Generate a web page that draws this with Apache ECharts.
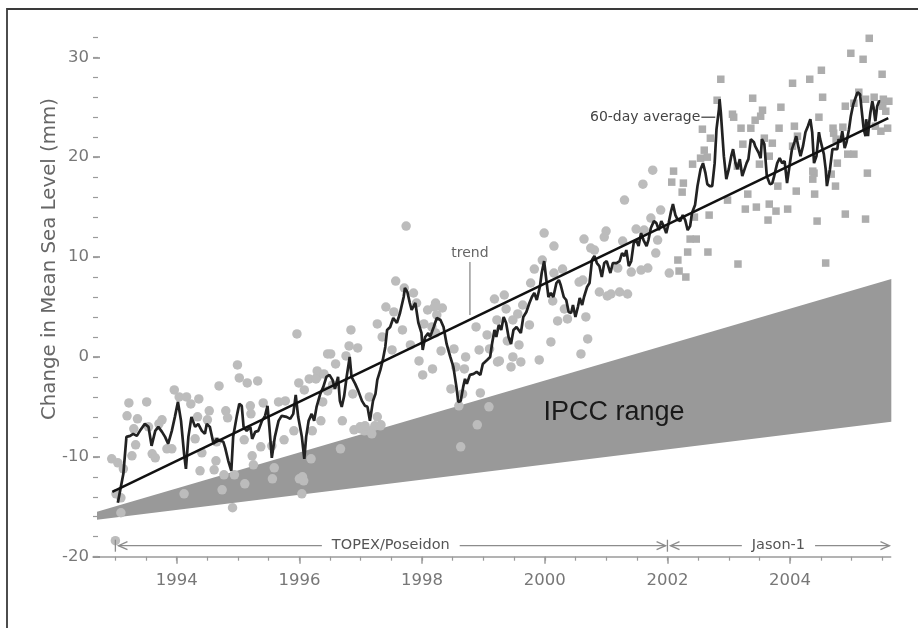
<!DOCTYPE html>
<html><head><meta charset="utf-8">
<script src="https://cdn.jsdelivr.net/npm/echarts@6/dist/echarts.min.js"></script>
<style>html,body{margin:0;padding:0;background:#fff}#c{width:918px;height:628px}</style>
</head><body><div id="c"></div>
<script>
// ---- tick values ----
const xMajorTicks = [1994, 1996, 1998, 2000, 2002, 2004];
const xMinorTicks = [1993, 1993.5, 1994, 1994.5, 1995, 1995.5, 1996, 1996.5, 1997, 1997.5, 1998, 1998.5, 1999, 1999.5, 2000, 2000.5, 2001, 2001.5, 2002, 2002.5, 2003, 2003.5, 2004, 2004.5, 2005, 2005.5];
const yMajorTicks = [-20, -10, 0, 10, 20, 30];
const yMinorTicks = [-20, -18, -16, -14, -12, -10, -8, -6, -4, -2, 0, 2, 4, 6, 8, 10, 12, 14, 16, 18, 20, 22, 24, 26, 28, 30, 32];

// ---- 60-day average (year, mm) ----
const avgPoints = [
[1993.04,-14.6],[1993.13,-11.7],[1993.18,-8.0],[1993.24,-7.9],[1993.29,-7.7],[1993.35,-7.9],[1993.40,-7.4],[1993.48,-6.7],[1993.54,-7.0],[1993.59,-8.9],[1993.65,-7.4],[1993.70,-7.0],[1993.76,-7.5],[1993.81,-8.0],[1993.86,-8.7],[1993.92,-7.4],[1993.97,-6.0],[1994.02,-4.5],[1994.07,-6.4],[1994.12,-9.7],[1994.15,-11.2],[1994.19,-8.0],[1994.24,-6.0],[1994.30,-7.0],[1994.35,-6.7],[1994.41,-7.4],[1994.46,-7.7],[1994.49,-6.7],[1994.54,-7.0],[1994.60,-8.7],[1994.65,-8.2],[1994.71,-8.4],[1994.76,-8.5],[1994.79,-9.1],[1994.84,-10.4],[1994.89,-11.4],[1994.92,-8.0],[1994.98,-5.9],[1995.02,-4.7],[1995.06,-4.9],[1995.09,-7.0],[1995.14,-7.4],[1995.20,-7.0],[1995.23,-8.2],[1995.28,-7.5],[1995.33,-7.4],[1995.39,-6.4],[1995.44,-5.9],[1995.48,-4.9],[1995.51,-7.0],[1995.55,-10.1],[1995.60,-8.0],[1995.66,-6.4],[1995.71,-5.9],[1995.79,-6.0],[1995.85,-6.2],[1995.90,-5.7],[1995.94,-3.8],[1995.98,-6.0],[1996.04,-8.0],[1996.08,-10.2],
[1996.11,-8.0],[1996.15,-6.4],[1996.20,-5.7],[1996.24,-6.4],[1996.28,-5.0],[1996.34,-3.7],[1996.39,-3.0],[1996.44,-2.0],[1996.49,-1.8],[1996.54,-2.3],[1996.58,-3.2],[1996.63,-2.0],[1996.66,-4.4],[1996.69,-5.0],[1996.73,-3.9],[1996.77,-2.0],[1996.82,0.0],[1996.85,-2.0],[1996.91,-2.7],[1996.96,-3.4],[1997.02,-4.4],[1997.07,-4.9],[1997.11,-5.0],[1997.15,-6.4],[1997.20,-4.4],[1997.24,-3.7],[1997.27,-2.3],[1997.32,-1.3],[1997.36,-0.3],[1997.40,1.0],[1997.43,2.7],[1997.48,3.0],[1997.53,3.9],[1997.59,3.4],[1997.64,4.4],[1997.70,6.0],[1997.72,6.9],[1997.76,6.5],[1997.80,5.4],[1997.83,4.7],[1997.89,5.4],[1997.94,3.4],[1997.99,2.4],[1998.01,0.7],[1998.05,2.0],[1998.10,2.4],[1998.13,2.0],[1998.19,3.0],[1998.24,3.9],[1998.30,3.7],[1998.35,3.0],[1998.40,1.3],[1998.46,0.0],[1998.51,-1.0],[1998.56,-3.0],[1998.59,-4.5],[1998.63,-4.4],[1998.67,-3.0],[1998.70,-2.2],[1998.73,-2.7],[1998.78,-1.8],[1998.84,-1.7],[1998.89,-1.5],[1998.95,-1.8],[1998.99,-0.7],[1999.06,-0.3],[1999.11,0.0],
[1999.14,1.3],[1999.18,2.7],[1999.21,2.0],[1999.25,3.2],[1999.29,2.7],[1999.33,4.0],[1999.37,3.4],[1999.41,2.0],[1999.45,1.3],[1999.49,2.7],[1999.54,3.0],[1999.57,3.0],[1999.61,2.4],[1999.65,4.0],[1999.70,4.5],[1999.75,5.4],[1999.79,6.0],[1999.83,6.4],[1999.87,5.7],[1999.92,7.0],[1999.95,8.4],[1999.99,9.6],[2000.02,8.0],[2000.06,6.0],[2000.10,6.4],[2000.14,6.0],[2000.19,7.4],[2000.23,7.7],[2000.26,7.2],[2000.31,6.0],[2000.35,5.7],[2000.39,4.5],[2000.43,4.4],[2000.46,5.2],[2000.50,4.0],[2000.54,5.0],[2000.57,5.9],[2000.61,5.2],[2000.64,6.0],[2000.69,7.0],[2000.73,7.4],[2000.77,9.7],[2000.81,10.1],[2000.85,9.4],[2000.89,9.1],[2000.93,8.0],[2000.97,9.4],[2001.01,9.6],[2001.07,8.4],[2001.11,9.4],[2001.17,9.4],[2001.22,9.6],[2001.26,10.4],[2001.30,10.1],[2001.33,10.7],[2001.37,9.1],[2001.41,9.6],[2001.45,11.4],[2001.49,11.7],[2001.53,11.1],[2001.57,12.4],[2001.61,11.7],[2001.66,11.1],[2001.69,11.7],[2001.73,12.9],[2001.78,13.6],[2001.82,13.4],[2001.86,12.7],[2001.90,13.6],[2001.94,13.1],[2001.98,12.4],[2002.02,13.4],[2002.06,14.6],[2002.09,15.3],[2002.13,14.2],[2002.17,13.7],[2002.21,13.6],[2002.25,14.2],[2002.29,13.7],[2002.33,12.7],[2002.37,13.1],
[2002.40,14.4],[2002.45,15.2],[2002.49,17.1],[2002.54,18.8],[2002.58,19.4],[2002.62,18.4],[2002.65,17.3],[2002.69,17.1],[2002.73,17.1],[2002.77,19.4],[2002.80,22.8],[2002.84,24.8],[2002.85,25.8],[2002.87,24.5],[2002.92,20.1],[2002.96,17.8],[2003.00,18.8],[2003.04,20.1],[2003.07,20.8],[2003.11,19.4],[2003.14,18.8],[2003.18,19.8],[2003.22,18.1],[2003.24,17.9],[2003.29,19.4],[2003.32,19.8],[2003.36,21.8],[2003.41,21.5],[2003.43,21.1],[2003.46,21.3],[2003.49,20.4],[2003.52,19.9],[2003.54,21.8],[2003.58,21.3],[2003.62,18.1],[2003.67,17.3],[2003.71,17.4],[2003.74,18.1],[2003.79,19.4],[2003.83,19.9],[2003.87,19.4],[2003.91,19.6],[2003.95,17.4],[2003.99,19.1],[2004.03,20.8],[2004.07,21.5],[2004.10,22.1],[2004.14,20.9],[2004.17,20.1],[2004.21,21.1],[2004.25,22.5],[2004.29,23.1],[2004.33,23.8],[2004.36,22.5],[2004.39,19.4],[2004.43,20.1],[2004.47,22.5],[2004.49,21.8],[2004.53,20.8],[2004.55,20.3],[2004.58,18.8],[2004.60,17.1],[2004.65,18.8],[2004.69,20.8],[2004.72,20.6],[2004.77,20.8],[2004.79,21.8],[2004.82,21.5],[2004.85,22.6],[2004.89,20.9],[2004.92,21.5],[2004.96,22.8],[2004.99,24.1],[2005.03,25.3],[2005.07,26.0],[2005.10,26.5],[2005.14,26.3],[2005.17,24.5],[2005.20,22.8],[2005.23,22.1],[2005.24,23.8],[2005.27,22.1],[2005.29,23.5],[2005.31,24.5],[2005.34,25.6],[2005.36,25.0],[2005.39,23.6],[2005.42,25.1],[2005.45,25.6],[2005.47,25.6]
];

// ---- TOPEX/Poseidon measurements (circles) ----
const topexPoints = [
[1995.96,2.3],[1994.99,-0.8],[1995.02,-2.1],[1995.15,-2.6],[1995.32,-2.4],[1994.69,-2.9],[1993.96,-3.3],[1994.04,-4.0],[1994.16,-4.0],[1994.36,-4.2],[1994.23,-4.7],[1993.22,-4.6],[1993.51,-4.5],[1994.53,-5.4],[1994.80,-5.4],[1993.19,-5.9],[1993.36,-6.2],[1994.34,-6.0],[1993.76,-6.3],[1993.71,-6.7],[1994.83,-6.1],[1994.50,-6.3],[1995.20,-4.9],[1995.41,-4.6],[1995.66,-4.5],[1995.77,-4.4],[1995.99,-2.6],[1996.08,-3.3],[1995.21,-5.7],[1993.30,-7.2],[1993.54,-7.0],[1993.60,-9.7],[1993.65,-10.1],[1993.84,-9.2],[1993.92,-9.2],[1993.33,-8.8],[1993.27,-9.9],[1992.94,-10.2],[1993.04,-10.6],[1993.13,-11.2],[1993.01,-13.7],[1994.30,-8.2],[1994.41,-9.6],[1994.65,-8.5],[1995.10,-8.3],[1995.37,-9.0],[1995.23,-9.9],[1995.55,-8.9],[1995.75,-8.3],[1995.91,-7.4],[1994.64,-10.4],[1994.61,-11.3],[1994.38,-11.4],[1994.77,-11.8],[1994.94,-11.8],[1995.25,-10.8],[1995.59,-11.1],[1995.56,-12.2],[1995.11,-12.7],[1994.74,-13.3],[1994.12,-13.7],[1996.00,-12.2],[1996.04,-13.7],[1994.91,-15.1],[1993.09,-15.6],[1993.00,-18.4],[1993.09,-14.1],[1996.16,-2.2],[1996.29,-1.4],[1996.29,-2.0],
[1997.74,13.1],[1997.57,7.6],[1996.84,2.7],[1997.71,6.9],[1997.86,6.4],[1997.91,5.4],[1997.41,5.0],[1997.27,3.3],[1997.54,4.5],[1998.09,4.7],[1998.22,5.4],[1998.33,4.9],[1998.20,5.0],[1998.24,4.2],[1998.03,3.3],[1998.16,3.0],[1998.22,2.4],[1999.18,5.8],[1998.88,3.0],[1999.06,2.2],[1999.22,3.7],[1996.81,1.1],[1996.95,0.9],[1996.46,0.3],[1996.51,0.3],[1996.76,0.1],[1996.59,-0.7],[1996.27,-2.2],[1996.54,-2.8],[1996.40,-1.7],[1996.46,-3.4],[1996.87,-3.7],[1996.38,-4.5],[1996.70,-6.4],[1996.21,-7.4],[1996.35,-6.4],[1996.89,-7.3],[1997.00,-7.2],[1997.06,-7.4],[1997.16,-7.4],[1997.27,-6.0],[1997.33,-6.8],[1997.14,-4.0],[1997.35,2.0],[1997.51,0.7],[1997.68,2.7],[1997.81,1.2],[1997.95,-0.4],[1998.01,-1.8],[1998.17,-1.2],[1998.31,0.6],[1998.52,0.8],[1998.55,-1.0],[1998.71,0.0],[1998.69,-1.2],[1998.47,-3.2],[1998.95,-3.6],[1998.66,-3.7],[1998.93,0.7],[1999.10,0.8],[1999.23,-0.5],[1999.09,-5.0],[1998.90,-6.8],[1998.60,-4.9],[1998.63,-9.0],[1996.67,-9.2],[1996.19,-10.2],[1996.05,-12.0],[1996.99,-7.0],[1997.07,-6.9],[1997.23,-6.9],[1997.32,-6.9],[1997.18,-7.7],[1996.07,-12.4],
[2001.76,18.7],[2001.60,17.3],[2001.30,15.7],[1999.99,12.4],[2000.15,11.1],[2000.64,11.8],[2001.00,12.6],[2000.97,12.0],[2000.75,10.9],[2000.81,10.7],[2001.27,11.6],[2001.49,12.8],[2001.62,12.7],[2001.73,13.9],[2001.89,14.7],[2001.84,11.7],[2001.81,10.4],[1999.83,8.8],[1999.96,9.7],[2000.29,8.8],[2000.15,8.4],[2000.56,7.5],[2000.62,7.7],[2000.89,6.5],[2001.02,6.1],[2001.08,6.3],[2001.22,6.5],[2001.35,6.3],[2001.41,8.5],[2001.57,8.7],[2001.68,8.9],[2001.19,8.9],[1999.34,6.2],[1999.64,5.2],[1999.77,7.4],[2000.13,5.6],[1999.37,4.8],[1999.48,3.7],[1999.56,4.3],[1999.75,3.2],[2000.32,4.8],[2000.21,3.6],[2000.37,3.8],[2000.67,4.0],[1999.39,1.6],[1999.58,1.2],[1999.26,-0.4],[1999.48,0.0],[1999.61,-0.5],[1999.45,-1.0],[1999.91,-0.3],[2000.10,1.5],[2000.70,1.8],[2000.59,0.3],[2002.03,8.4]
];

// ---- Jason-1 measurements (squares) ----
const jasonPoints = [
[2002.41,19.3],[2002.10,18.6],[2002.07,17.5],[2002.26,17.4],[2002.24,16.5],[2002.33,10.5],[2002.17,9.7],[2002.19,8.6],[2002.30,8.0],[2002.37,11.8],[2002.47,11.8],
[2005.29,31.9],[2004.99,30.4],[2005.19,29.8],[2005.50,28.3],[2004.51,28.7],[2004.32,27.8],[2004.04,27.4],[2002.87,27.8],[2003.39,25.9],[2002.81,25.7],[2004.53,26.0],[2003.85,25.0],[2003.55,24.7],[2003.08,24.0],[2003.43,23.7],[2003.52,24.1],[2004.90,25.1],[2005.04,25.4],[2005.12,26.5],[2005.37,26.0],[2005.52,25.8],[2005.61,25.6],[2005.56,24.6],[2005.59,22.9],[2005.48,22.6],[2005.39,23.1],[2004.47,24.0],[2004.07,23.1],[2003.82,22.9],[2003.36,22.9],[2003.20,22.9],[2003.58,21.9],[2003.71,21.4],[2003.23,21.3],[2002.57,22.8],[2002.70,21.9],[2002.54,19.9],[2002.65,20.0],[2003.14,19.1],[2003.50,19.3],[2004.39,18.4],[2004.71,22.4],[2004.77,19.4],[2004.94,20.3],[2005.04,20.3],[2005.26,18.4],[2003.80,17.1],[2004.10,16.6],[2003.31,16.3],[2002.98,15.7],[2003.66,15.3],[2003.27,14.8],[2003.45,15.0],[2003.77,14.6],[2003.96,14.8],[2003.64,13.7],[2002.68,14.2],[2002.44,14.0],[2004.44,13.6],[2004.90,14.3],[2005.23,13.8],[2002.66,10.5],[2003.15,9.3],[2004.58,9.4],[2004.74,17.1],
[2002.60,20.7],[2003.06,24.3],[2004.70,22.9],[2004.86,23.0],[2004.75,21.8],[2005.23,25.8],[2005.51,25.1],[2003.66,20.1],[2004.04,21.1],[2004.12,22.1],[2004.37,18.6],[2004.37,17.8],[2004.67,18.3],[2004.40,16.3]
];

// ---- trend and IPCC range ----
const trendPoints = [[1992.95,-13.5],[2005.6,23.9]];
const ipccUpper = [[1992.7,-15.5],[2005.65,7.8]];
const ipccLower = [[1992.7,-16.3],[2005.65,-6.5]];

const FONT = 'DejaVu Sans';
const chart = echarts.init(document.getElementById('c'), null, {renderer:'canvas'});
const XMIN = 1992.635, XMAX = 2005.64;

const option = {
  animation: false,
  backgroundColor: '#ffffff',
  grid: {left: 93, right: 27.3, top: 37.3, bottom: 71.3, containLabel: false, outerBoundsMode: 'none'},
  xAxis: [
    {type:'value', min:XMIN, max:XMAX, position:'bottom',
     axisLine:{show:true, onZero:false, lineStyle:{color:'#9a9a9a', width:1.5}},
     axisTick:{show:true, customValues:xMajorTicks, length:7, lineStyle:{color:'#9a9a9a', width:1.5}},
     axisLabel:{show:true, customValues:xMajorTicks, margin:16, color:'#777', fontSize:16.5, fontFamily:FONT, formatter:v=>String(v)},
     splitLine:{show:false}},
    {type:'value', min:XMIN, max:XMAX, position:'bottom', gridIndex:0,
     axisLine:{show:false, onZero:false},
     axisTick:{show:true, customValues:xMinorTicks, length:4, lineStyle:{color:'#9a9a9a', width:1.2}},
     axisLabel:{show:false}, splitLine:{show:false}}
  ],
  yAxis: [
    {type:'value', min:-20, max:32, position:'left',
     axisLine:{show:false, onZero:false},
     axisTick:{show:true, inside:true, customValues:yMajorTicks, length:7, lineStyle:{color:'#8a8a8a', width:1.5}},
     axisLabel:{show:true, customValues:yMajorTicks, margin:4, color:'#777', fontSize:16.5, fontFamily:FONT},
     splitLine:{show:false}},
    {type:'value', min:-20, max:32, position:'left', gridIndex:0,
     axisLine:{show:false, onZero:false},
     axisTick:{show:true, inside:true, customValues:yMinorTicks, length:5, lineStyle:{color:'#9a9a9a', width:1.2}},
     axisLabel:{show:false}, splitLine:{show:false}}
  ],
  series: [
    {type:'custom', name:'IPCC range', xAxisIndex:0, yAxisIndex:0, z:1, silent:true,
     data:[ipccUpper[0]],
     renderItem:function(params, api){
       const pts = [api.coord(ipccUpper[0]), api.coord(ipccUpper[1]), api.coord(ipccLower[1]), api.coord(ipccLower[0])];
       return {type:'polygon', shape:{points:pts}, style:{fill:'#999999', stroke:null}};
     }},
    {type:'scatter', name:'TOPEX/Poseidon', xAxisIndex:0, yAxisIndex:0, z:2, symbol:'circle', symbolSize:9.5,
     itemStyle:{color:'#bcbcbc', opacity:1}, data:topexPoints},
    {type:'scatter', name:'Jason-1', xAxisIndex:0, yAxisIndex:0, z:2, symbol:'rect', symbolSize:7.5,
     itemStyle:{color:'#adadad', opacity:1}, data:jasonPoints},
    {type:'line', name:'60-day average', xAxisIndex:0, yAxisIndex:0, z:3, showSymbol:false, symbol:'none',
     lineStyle:{color:'#222', width:2.7}, data:avgPoints},
    {type:'line', name:'trend', xAxisIndex:0, yAxisIndex:0, z:4, showSymbol:false, symbol:'none',
     lineStyle:{color:'#111', width:2.5}, data:trendPoints}
  ]
};
chart.setOption(option);

// ---- annotations, anchored in data coordinates ----
const P = (x, y) => chart.convertToPixel({xAxisIndex:0, yAxisIndex:0}, [x, y]);
const arrowY = -18.9;
const g = [];
g.push({type:'rect', shape:{x:7, y:9, width:1000, height:1000}, style:{fill:null, stroke:'#3a3a3a', lineWidth:1.8}, z:100});
g.push({type:'text', x:50, y:259, rotation:Math.PI/2, z:100,
  style:{text:'Change in Mean Sea Level (mm)', fill:'#666', font:'19.8px "DejaVu Sans"', align:'center', verticalAlign:'middle'}});
// IPCC range label
(function(){ const p = P(1999.98, -5.6);
  g.push({type:'text', x:p[0], y:p[1], z:100, style:{text:'IPCC range', fill:'#1a1a1a', font:'27px "Liberation Sans"', align:'left', verticalAlign:'middle'}}); })();
// trend label
(function(){ const t = P(1998.78, 10.4), a = P(1998.78, 9.5), b = P(1998.78, 4.2);
  g.push({type:'text', x:t[0], y:t[1], z:100, style:{text:'trend', fill:'#666', font:'14px "DejaVu Sans"', align:'center', verticalAlign:'middle'}});
  g.push({type:'line', z:100, shape:{x1:a[0], y1:a[1], x2:b[0], y2:b[1]}, style:{stroke:'#999', lineWidth:1.5}}); })();
// 60-day average label
(function(){ const t = P(2002.537, 24.0), e = P(2002.78, 24.0);
  g.push({type:'text', x:t[0], y:t[1], z:100, style:{text:'60-day average', fill:'#444', font:'14px "DejaVu Sans"', align:'right', verticalAlign:'middle'}});
  g.push({type:'line', z:100, shape:{x1:t[0]+1, y1:t[1], x2:e[0], y2:e[1]}, style:{stroke:'#444', lineWidth:1.3}}); })();
// mission arrows
function head(p, dir){ return {type:'polyline', z:100, shape:{points:[[p[0]-dir*9, p[1]-4], [p[0], p[1]], [p[0]-dir*9, p[1]+4]]}, style:{stroke:'#8c8c8c', lineWidth:1.3, fill:null}}; }
function bar(p){ return {type:'line', z:100, shape:{x1:p[0], y1:p[1]-6, x2:p[0], y2:p[1]+6}, style:{stroke:'#8c8c8c', lineWidth:1.3}}; }
(function(){
  const a1 = P(1993.05, arrowY), a2 = P(2001.97, arrowY), sep = P(2002.0, arrowY), b1 = P(2002.05, arrowY), b2 = P(2005.62, arrowY), st = P(1993.0, arrowY);
  g.push({type:'line', z:100, shape:{x1:a1[0], y1:a1[1], x2:a2[0], y2:a2[1]}, style:{stroke:'#8c8c8c', lineWidth:1.3}});
  g.push(head(a1, -1)); g.push(head(a2, 1)); g.push(bar(sep)); g.push(bar(st));
  g.push({type:'line', z:100, shape:{x1:b1[0], y1:b1[1], x2:b2[0], y2:b2[1]}, style:{stroke:'#8c8c8c', lineWidth:1.3}});
  g.push(head(b1, -1)); g.push(head(b2, 1));
  const t1 = P(1997.49, arrowY), t2 = P(2003.81, arrowY);
  g.push({type:'text', x:t1[0], y:t1[1], z:101, style:{text:'TOPEX/Poseidon', fill:'#555', font:'14.5px "DejaVu Sans"', align:'center', verticalAlign:'middle', backgroundColor:'#fff', padding:[2,10]}});
  g.push({type:'text', x:t2[0], y:t2[1], z:101, style:{text:'Jason-1', fill:'#555', font:'14.5px "DejaVu Sans"', align:'center', verticalAlign:'middle', backgroundColor:'#fff', padding:[2,10]}});
})();
chart.setOption({graphic: {elements: g}});
</script>
</body></html>
